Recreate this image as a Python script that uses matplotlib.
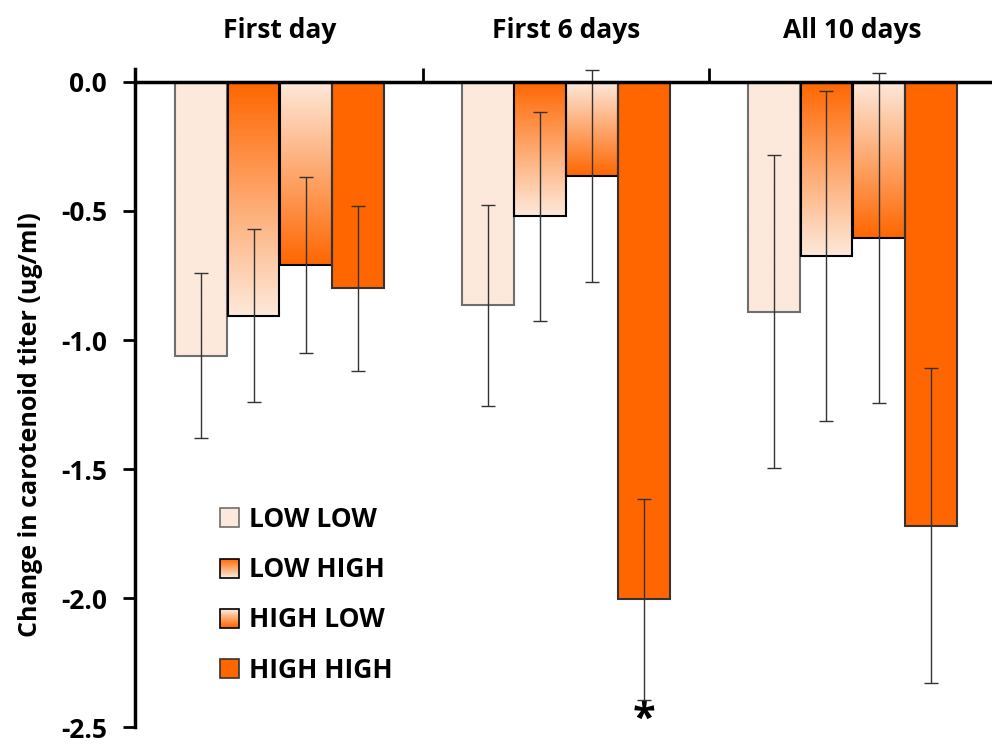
import numpy as np
import matplotlib
matplotlib.use("Agg")
import matplotlib.pyplot as plt
from matplotlib.patches import Rectangle
from matplotlib.legend_handler import HandlerBase
from matplotlib.colors import LinearSegmentedColormap

plt.rcParams['font.family'] = ['Open Sans', 'DejaVu Sans']
plt.rcParams['font.weight'] = 'bold'
plt.rcParams['axes.unicode_minus'] = False

groups = ["First day", "First 6 days", "All 10 days"]
series = ["LOW LOW", "LOW HIGH", "HIGH LOW", "HIGH HIGH"]
low_low = [-1.06, -0.865, -0.89]
low_high = [-0.905, -0.52, -0.675]
high_low = [-0.71, -0.365, -0.605]
high_high = [-0.80, -2.005, -1.72]
err_low_low = [0.32, 0.39, 0.605]
err_low_high = [0.335, 0.405, 0.64]
err_high_low = [0.34, 0.41, 0.64]
err_high_high = [0.32, 0.39, 0.61]
yticks = [0.0, -0.5, -1.0, -1.5, -2.0, -2.5]

LIGHT = "#fde9db"
ORANGE = "#ff6600"
# (top colour, bottom colour, edge colour) per series
styles = [(LIGHT, LIGHT, "#6e6e6e"),
          (ORANGE, LIGHT, "black"),
          (LIGHT, ORANGE, "black"),
          (ORANGE, ORANGE, "#333333")]
values = [low_low, low_high, high_low, high_high]
errors = [err_low_low, err_low_high, err_high_low, err_high_high]

fig = plt.figure(figsize=(9.92, 7.47), dpi=100)
ax = fig.add_axes([0.136, 0.0265, 0.862, 0.8811])

x = np.arange(len(groups))
width = 0.181
grad = np.linspace(0, 1, 256).reshape(-1, 1)

for i, (vals, errs, (ctop, cbot, ec)) in enumerate(zip(values, errors, styles)):
    xs = x + (i - 1.5) * 0.182
    cmap = LinearSegmentedColormap.from_list("g%d" % i, [ctop, cbot])
    bars = ax.bar(xs, vals, width, color="none", edgecolor=ec, linewidth=1.5, zorder=3)
    for b in bars:
        x0, w = b.get_x(), b.get_width()
        h = b.get_height()
        im = ax.imshow(grad, cmap=cmap, aspect="auto", origin="upper",
                       extent=[x0, x0 + w, h, 0], zorder=2, interpolation="bicubic")
        im.set_clip_path(b)
    ax.errorbar(xs, vals, yerr=errs, fmt="none", ecolor="#333333", elinewidth=1.0,
                capsize=5, capthick=1.0, zorder=4)

# significance mark
ax.text(x[1] + 1.5 * 0.182, -2.475, "*", ha="center", va="center", fontsize=30,
        fontweight="bold")

ax.set_xlim(-0.505, 2.48)
ax.set_ylim(-2.5, 0.05)
ax.set_yticks(yticks)
ax.set_yticklabels(["%.1f" % t for t in yticks], fontsize=19, fontweight="bold")
ax.set_ylabel("Change in carotenoid titer (ug/ml)", fontsize=18, fontweight="bold")
ax.yaxis.set_label_coords(-0.108, 0.46)

for s in ["top", "right"]:
    ax.spines[s].set_visible(False)
ax.spines["left"].set_linewidth(2.5)
ax.spines["bottom"].set_position(("data", 0))
ax.spines["bottom"].set_linewidth(2.5)
ax.spines["bottom"].set_zorder(5)
ax.tick_params(axis="y", direction="out", length=9, width=2, pad=11)
ax.set_xticks([0.5, 1.5])
ax.tick_params(axis="x", direction="in", length=10, width=2, labelbottom=False)

top = ax.secondary_xaxis("top")
top.set_xticks(x)
top.set_xticklabels(groups, fontsize=19, fontweight="bold")
top.tick_params(length=0, pad=18)
top.spines["top"].set_visible(False)


class GradHandler(HandlerBase):
    def __init__(self, ctop, cbot, ec):
        super().__init__()
        self.ctop, self.cbot, self.ec = ctop, cbot, ec

    def create_artists(self, legend, orig_handle, xdescent, ydescent, width, height,
                       fontsize, trans):
        cmap = LinearSegmentedColormap.from_list("lg", [self.ctop, self.cbot])
        size = 19 * 72 / fig.dpi
        x0 = width - size
        y0 = (height - size) / 2 - ydescent
        n = 20
        arts = []
        for k in range(n):
            r = Rectangle((x0, y0 + size * (n - 1 - k) / n), size, size / n,
                          facecolor=cmap(k / (n - 1)), edgecolor="none", transform=trans)
            arts.append(r)
        arts.append(Rectangle((x0, y0), size, size, facecolor="none", edgecolor=self.ec,
                              linewidth=1.2, transform=trans))
        return arts


handles = [Rectangle((0, 0), 1, 1) for _ in series]
ax.legend(handles, series, loc="lower left", bbox_to_anchor=(0.066, 0.03),
          frameon=False, prop={"size": 19, "weight": "bold"}, labelspacing=0.88,
          handlelength=0.9, handletextpad=0.4,
          handler_map={h: GradHandler(*st) for h, st in zip(handles, styles)})

fig.savefig("out.png", dpi=100)
